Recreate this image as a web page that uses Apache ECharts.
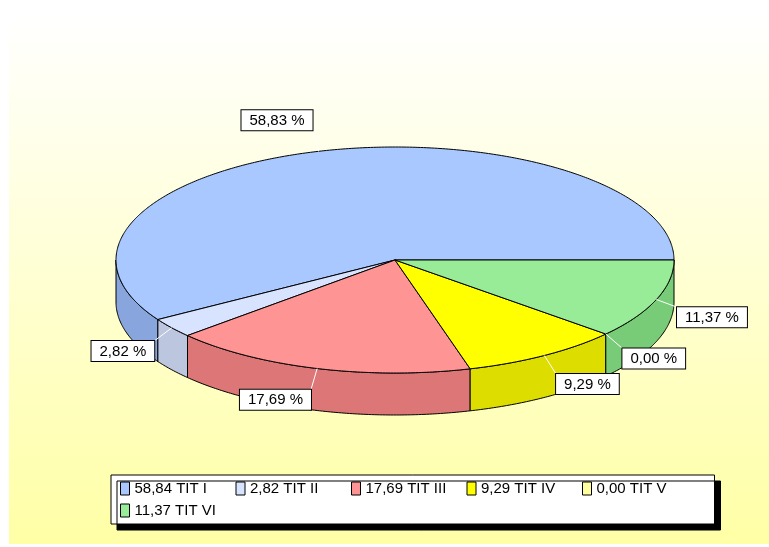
<!DOCTYPE html>
<html><head><meta charset="utf-8">
<script src="https://cdn.jsdelivr.net/npm/echarts@6/dist/echarts.min.js"></script>
<style>html,body{margin:0;padding:0;background:#fff}#c{width:769px;height:547px}</style>
</head><body><div id="c"></div>
<script>
// ---- data ----
const names = ['TIT I', 'TIT II', 'TIT III', 'TIT IV', 'TIT V', 'TIT VI'];
const values = [58.84, 2.82, 17.69, 9.29, 0.00, 11.37];
const topColors = ['#A8C8FF', '#D8E4FF', '#FF9494', '#FFFF00', '#FFFFA0', '#98EC98'];
const sideColors = ['#88A6DD', '#BCC6DE', '#DD7676', '#DDDD00', '#DDDD88', '#78CC78'];

// ---- layout ----
const CX = 395, CY = 260, RX = 279, RY = 113, DEPTH = 42, LEAD = 22;
const FONT = '15px "Liberation Sans", Arial, sans-serif';

const total = values.reduce((a, b) => a + b, 0);
const starts = [];
let acc = 0;
values.forEach(v => { starts.push(acc / total * Math.PI * 2); acc += v; });
const fmt = x => x.toFixed(2).replace('.', ',');

function pt(a, dy) { return [CX + RX * Math.cos(a), CY - RY * Math.sin(a) + (dy || 0)]; }
function arc(a0, a1, dy) {
  const n = Math.max(2, Math.ceil(Math.abs(a1 - a0) / 0.01));
  const pts = [];
  for (let i = 0; i <= n; i++) pts.push(pt(a0 + (a1 - a0) * i / n, dy));
  return pts;
}

function renderSlice(params, api) {
  const i = params.seriesIndex;
  let v = api.value(0);
  if (isNaN(v)) v = values[i];
  const a0 = starts[i], a1 = a0 + v / total * Math.PI * 2;
  const children = [];
  if (a1 > a0) {
    const b0 = Math.max(a0, Math.PI), b1 = Math.min(a1, 2 * Math.PI);
    if (b1 > b0) {
      const top = arc(b0, b1, 0), bot = arc(b1, b0, DEPTH);
      children.push({ type: 'polygon', z2: 1, shape: { points: top.concat(bot) },
        style: { fill: sideColors[i], stroke: '#000', lineWidth: 1 } });
    }
    children.push({ type: 'polygon', z2: 2, shape: { points: [[CX, CY]].concat(arc(a0, a1, 0)) },
      style: { fill: topColors[i], stroke: '#000', lineWidth: 1 } });
  }
  const m = (a0 + a1) / 2, c = Math.cos(m), s = Math.sin(m);
  const p = pt(m, 0), e = [p[0] + LEAD * c, p[1] - LEAD * s];
  children.push({ type: 'line', z2: 3, shape: { x1: p[0], y1: p[1], x2: e[0], y2: e[1] },
    style: { stroke: '#fff', lineWidth: 1 } });
  children.push({ type: 'text', z2: 4, x: e[0], y: e[1], style: {
    text: fmt(v / total * 100) + ' %', font: FONT, fill: '#000',
    backgroundColor: '#fff', borderColor: '#000', borderWidth: 1, padding: [3, 8, 2, 8],
    align: c < 0 ? 'right' : 'left', verticalAlign: s > 0 ? 'bottom' : 'top' } });
  return { type: 'group', children };
}

const chart = echarts.init(document.getElementById('c'), null, { renderer: 'canvas' });
chart.setOption({
  animation: false,
  backgroundColor: '#fff',
  graphic: [{
    type: 'rect', z: -10, silent: true,
    shape: { x: 9, y: 16, width: 760, height: 528 },
    style: { fill: new echarts.graphic.LinearGradient(0, 0, 0, 1, [
      { offset: 0, color: '#FFFFFF' }, { offset: 1, color: '#FFFFA6' }]) }
  }],
  legend: {
    left: 111, top: 475, width: 600, orient: 'horizontal',
    itemWidth: 9, itemHeight: 13, itemGap: 3, padding: [4, 20, 4, 9],
    backgroundColor: '#fff', borderColor: '#000', borderWidth: 1,
    shadowColor: '#000', shadowBlur: 0, shadowOffsetX: 6, shadowOffsetY: 6,
    selectedMode: false, icon: 'rect',
    itemStyle: { borderColor: '#000', borderWidth: 1 },
    textStyle: { fontFamily: '"Liberation Sans", Arial, sans-serif', fontSize: 15, color: '#000', width: 98, lineHeight: 19 },
    data: names.map((n, i) => fmt(values[i]) + ' ' + n)
  },
  series: names.map((n, i) => ({
    type: 'custom', name: fmt(values[i]) + ' ' + n, coordinateSystem: 'none',
    renderItem: renderSlice, data: [[values[i]]], z: 2,
    itemStyle: { color: topColors[i] }
  }))
});
</script>
</body></html>
